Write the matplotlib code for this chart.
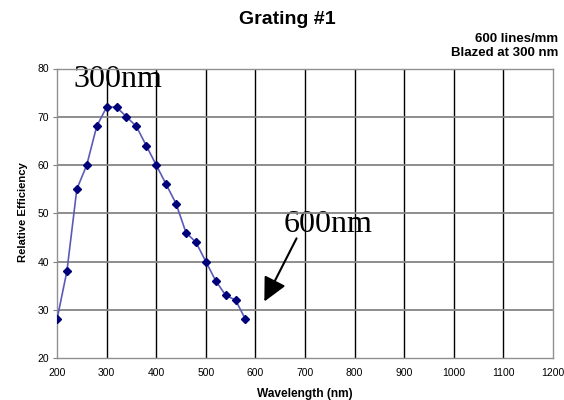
import matplotlib
matplotlib.use("Agg")
import matplotlib.pyplot as plt

wavelength = [200, 220, 240, 260, 280, 300, 320, 340, 360, 380, 400, 420, 440, 460, 480, 500, 520, 540, 560, 580]
efficiency = [28, 38, 55, 60, 68, 72, 72, 70, 68, 64, 60, 56, 52, 46, 44, 40, 36, 33, 32, 28]
x_ticks = [200, 300, 400, 500, 600, 700, 800, 900, 1000, 1100, 1200]
y_ticks = [20, 30, 40, 50, 60, 70, 80]

W, H = 564, 400
L, R, T, B = 57, 553, 68.5, 358

fig = plt.figure(figsize=(5.64, 4.0), dpi=100)
ax = fig.add_axes([L/W, 1-B/H, (R-L)/W, (B-T)/H])

ax.plot(wavelength, efficiency, color='#5a5ab8', lw=1.2, zorder=3)
ax.plot(wavelength, efficiency, ls='none', marker='D', ms=3.8, color='#00007a', zorder=4)

ax.set_xlim(200, 1200)
ax.set_ylim(20, 80)
ax.set_xticks(x_ticks)
ax.set_yticks(y_ticks)
for x in x_ticks[1:-1]:
    ax.axvline(x, color='black', lw=1.0, zorder=2)
for y in y_ticks[1:-1]:
    ax.axhline(y, color='#858585', lw=1.3, zorder=2)
for s in ax.spines.values():
    s.set_color('#909090')
    s.set_linewidth(1.0)

sans = ['Liberation Sans', 'DejaVu Sans']
ax.tick_params(axis='y', labelsize=7.5, length=3, color='#808080', direction='out', pad=2.5)
ax.tick_params(axis='x', labelsize=7.5, length=0, pad=7)
for lab in ax.get_xticklabels() + ax.get_yticklabels():
    lab.set_family(sans)

fig.text(305/W, 1-394/H, 'Wavelength (nm)', ha='center', va='center', fontsize=8.6, fontweight='bold', family=sans)
fig.text(23.5/W, 1-212.5/H, 'Relative Efficiency', ha='center', va='center', rotation=90, fontsize=8.1, fontweight='bold', family=sans)

fig.text(287/W, 1-20/H, 'Grating #1', ha='center', va='center', fontsize=14, fontweight='bold', family=sans)
fig.text(558/W, 1-38.5/H, '600 lines/mm', ha='right', va='center', fontsize=9.5, fontweight='bold', family=sans)
fig.text(558/W, 1-53/H, 'Blazed at 300 nm', ha='right', va='center', fontsize=9.5, fontweight='bold', family=sans)

serif = ['Liberation Serif', 'DejaVu Serif']
ax.text(322, 76.2, '300nm', ha='center', va='baseline', fontsize=23, zorder=1, family=serif)
ax.text(747, 46.2, '600nm', ha='center', va='baseline', fontsize=23, zorder=1, family=serif)
ax.annotate('', xy=(618, 31.7), xytext=(683, 44.8),
            arrowprops=dict(arrowstyle='-|>,head_length=1.45,head_width=0.72', color='black', lw=1.5,
                            shrinkA=0, shrinkB=0),
            zorder=5)

fig.savefig('out.png', dpi=100)
